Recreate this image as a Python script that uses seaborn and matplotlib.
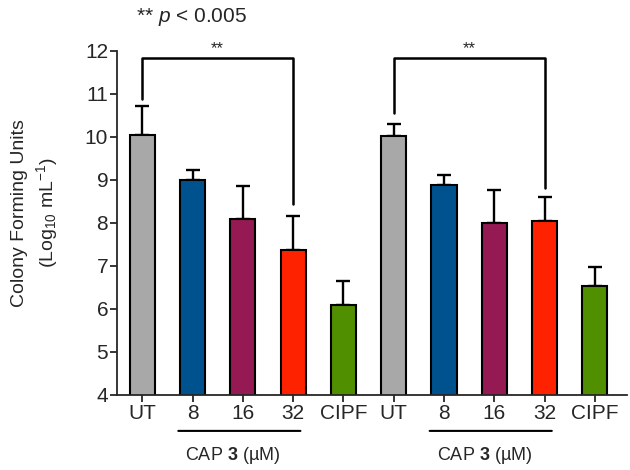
import numpy as np
import pandas as pd
import matplotlib
matplotlib.use("Agg")
import matplotlib.pyplot as plt
import seaborn as sns

sns.set_style("ticks")
plt.rcParams["font.family"] = ["Liberation Sans", "DejaVu Sans"]
plt.rcParams["mathtext.fontset"] = "custom"
plt.rcParams["mathtext.rm"] = "Liberation Sans"
plt.rcParams["mathtext.it"] = "Liberation Sans:italic"
plt.rcParams["mathtext.bf"] = "Liberation Sans:bold"

# data
labels = ["UT", "8", "16", "32", "CIPF", "UT", "8", "16", "32", "CIPF"]
means = [10.05, 9.00, 8.10, 7.38, 6.08, 10.02, 8.88, 8.00, 8.05, 6.53]
errors = [0.67, 0.22, 0.75, 0.77, 0.57, 0.28, 0.24, 0.76, 0.55, 0.45]
colors = ["#A8A8A8", "#00528F", "#951952", "#FF2200", "#4F8F00"] * 2

# significance brackets: (left bar, right bar, top, left leg end, right leg end)
brackets = [(0, 3, 11.84, 10.88, 8.44), (5, 8, 11.84, 10.56, 8.81)]

df = pd.DataFrame({"pos": range(len(means)), "cfu": means})

fig = plt.figure(figsize=(6.3, 4.7), dpi=100)
ax = fig.add_axes([0.186, 0.16, 0.81, 0.7315])

sns.barplot(
    data=df, x="pos", y="cfu", hue="pos", palette=colors, legend=False,
    width=0.5, saturation=1, edgecolor="black", linewidth=1.5, ax=ax, zorder=2
)

ax.errorbar(
    df["pos"], means, yerr=[np.zeros(len(errors)), errors],
    fmt="none", ecolor="black", elinewidth=1.7, capsize=4.7, capthick=1.7, zorder=1
)

ax.set_ylim(4, 12)
ax.set_xlim(-0.5, 9.65)
ax.set_yticks(range(4, 13))
ax.set_xticks(range(len(labels)))
ax.set_xticklabels(labels)
ax.tick_params(axis="both", labelsize=15, length=5, width=1.3, direction="out", pad=1.5)
ax.set_xlabel("")
ax.set_ylabel("Colony Forming Units\n(Log$_{10}$ mL$^{-1}$)", fontsize=14,
              linespacing=1.35, va="center")
ax.yaxis.set_label_coords(-0.16, 0.53)
sns.despine(ax=ax)
for s in ["left", "bottom"]:
    ax.spines[s].set_linewidth(1.3)

for a, b, top, la, lb in brackets:
    ax.plot([a, a, b, b], [la, top, top, lb], color="black", lw=1.8, clip_on=False)
    ax.text((a + b) / 2, top + 0.03, "**", ha="center", va="bottom", fontsize=12)

# group underlines and labels below the axis
for start in [0, 5]:
    ax.annotate("", xy=(start + 0.66, -0.105), xytext=(start + 3.2, -0.105),
                xycoords=("data", "axes fraction"),
                arrowprops=dict(arrowstyle="-", lw=1.5, color="black"))
    ax.text(start + 1.8, -0.178, r"CAP $\mathbf{3}$ (µM)", ha="center", va="center",
            fontsize=13, transform=ax.get_xaxis_transform())

fig.text(0.216, 0.963, r"** $p$ < 0.005", fontsize=15, va="center")

fig.savefig("out.png", dpi=100)
